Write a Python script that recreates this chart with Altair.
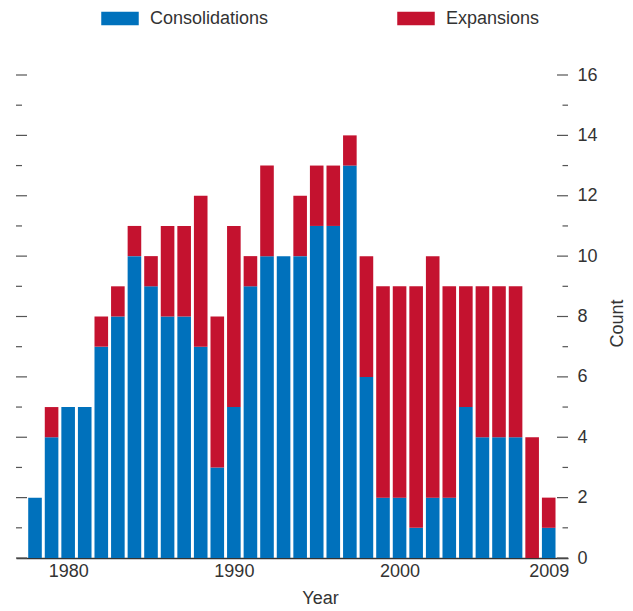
import altair as alt
import pandas as pd

# ---- data ----
years = list(range(1978, 2010))
consolidations = [2, 4, 5, 5, 7, 8, 10, 9, 8, 8, 7, 3, 5, 9, 10, 10, 10, 11, 11, 13,
                  6, 2, 2, 1, 2, 2, 5, 4, 4, 4, 0, 1]
expansions = [0, 1, 0, 0, 1, 1, 1, 1, 3, 3, 5, 5, 6, 1, 3, 0, 2, 2, 2, 1,
              4, 7, 7, 8, 8, 7, 4, 5, 5, 5, 4, 1]
series = ["Consolidations", "Expansions"]
colors = ["#0071BC", "#C4122F"]
x_tick_labels = [1980, 1990, 2000, 2009]
y_tick_labels = [0, 2, 4, 6, 8, 10, 12, 14, 16]
y_minor_ticks = [1, 3, 5, 7, 9, 11, 13, 15]

FONT = "Liberation Sans, Arial, sans-serif"
FS = 18
TEXT = "#333333"
TICK = "#555555"

rows = []
for y, c, e in zip(years, consolidations, expansions):
    rows.append({"Year": y, "Type": series[0], "Count": c, "ord": 0})
    rows.append({"Year": y, "Type": series[1], "Count": e, "ord": 1})
df = pd.DataFrame(rows)

major_df = pd.DataFrame({"v": y_tick_labels})
minor_df = pd.DataFrame({"v": y_minor_ticks})

W, H = 552, 483

y_scale = alt.Scale(domain=[0, 16], nice=False, padding=0)
y_axis = alt.Axis(orient="right", values=y_tick_labels, ticks=False,
                  domain=False, grid=False, labelFontSize=FS,
                  labelColor=TEXT, labelPadding=9,
                  title="Count", titleFontSize=FS, titleFontWeight="normal",
                  titleColor=TEXT, titleAngle=270, titleX=49, titleY=248,
                  titleAlign="center", titleBaseline="middle")

bars = alt.Chart(df).mark_bar(size=13.6).encode(
    x=alt.X("Year:Q",
            scale=alt.Scale(domain=[1976.853, 2010.164], nice=False, zero=False,
                            padding=0),
            axis=alt.Axis(values=x_tick_labels, format="d", ticks=False, grid=False,
                          domainColor="#333333", domainWidth=1.3,
                          labelFontSize=FS, labelColor=TEXT, labelPadding=4,
                          title="Year", titleFontSize=FS, titleFontWeight="normal",
                          titleColor=TEXT, titleX=304, titleY=31,
                          titleAlign="center", titleBaseline="top")),
    y=alt.Y("Count:Q", stack="zero", scale=y_scale, axis=y_axis, title="Count"),
    color=alt.Color("Type:N",
                    scale=alt.Scale(domain=series, range=colors),
                    legend=alt.Legend(orient="none", direction="horizontal",
                                      legendX=85, legendY=-75.5, title=None,
                                      symbolType="M-1,-0.355L1,-0.355L1,0.355L-1,0.355Z",
                                      symbolSize=1406, symbolStrokeWidth=0,
                                      symbolOpacity=1,
                                      labelFontSize=FS, labelColor=TEXT,
                                      labelOffset=11, columnPadding=128, padding=0)),
    order=alt.Order("ord:Q", sort="ascending"),
)


def tick_layer(data, x1, x2):
    return alt.Chart(data).mark_rule(color=TICK, strokeWidth=1.2).encode(
        y=alt.Y("v:Q", scale=y_scale, axis=y_axis, title="Count"),
        x=alt.value(x1), x2=alt.value(x2))


left_major = tick_layer(major_df, 0, 11)
left_minor = tick_layer(minor_df, 0, 6)
right_major = tick_layer(major_df, W - 11, W)
right_minor = tick_layer(minor_df, W - 5.5, W)

chart = alt.layer(bars, left_major, left_minor, right_major, right_minor).properties(
    width=W, height=H,
    autosize=alt.AutoSizeParams(type="none"),
    padding={"left": 8, "top": 67, "right": 57, "bottom": 50},
).configure_view(stroke=None).configure_axis(
    labelFont=FONT, titleFont=FONT
).configure_legend(labelFont=FONT)

chart.save("out.html", embed_options={"renderer": "svg", "actions": False})
